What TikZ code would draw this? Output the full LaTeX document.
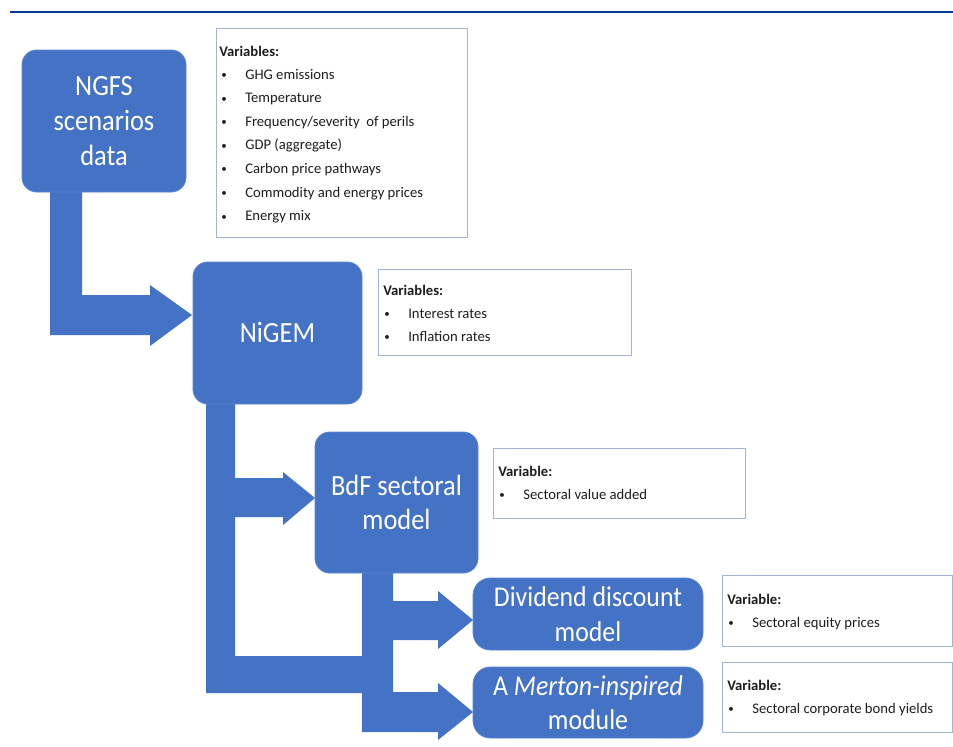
\documentclass[tikz,border=0pt]{standalone}
\usepackage{fontspec}
\setmainfont{Carlito}
\newfontfamily\bigfont{Carlito}[FakeStretch=0.9]
\definecolor{boxblue}{HTML}{4472C4}
\definecolor{boxedge}{HTML}{5A86D2}
\definecolor{arrowblue}{HTML}{4472C4}
\definecolor{topline}{HTML}{0B3A91}
\definecolor{varedge}{HTML}{A3B5CF}
\definecolor{vartxt}{HTML}{1E1E1E}
\newcommand\bul{\makebox[18pt][l]{\raisebox{0.5pt}{\scalebox{0.75}{\textbullet}}}}
\begin{document}
\begin{tikzpicture}[x=0.75pt,y=-0.75pt,
  bigbox/.style={draw=boxedge, fill=boxblue, line width=0.6pt, rounded corners=11pt,
    text=white, align=center, inner sep=0pt, font=\bigfont\fontsize{22}{26}\selectfont},
  smallbox/.style={bigbox, rounded corners=13pt, font=\bigfont\fontsize{21.5}{26}\selectfont},
  varbox/.style={draw=varedge, fill=white, line width=0.6pt, inner sep=0pt},
  vhead/.style={anchor=base west, inner sep=0pt, text=vartxt, font=\fontsize{11}{13}\selectfont\bfseries},
  vitem/.style={anchor=base west, inner sep=0pt, text=vartxt, font=\fontsize{11}{13}\selectfont},
  blockarrow/.style={fill=arrowblue}]
\useasboundingbox (0,0) rectangle (953,746);
\fill[white] (0,0) rectangle (953,746);
% top rule
\draw[topline, line width=2.2pt] (10,12) -- (953,12);

% block arrows
\fill[blockarrow] (50,185) -- (82,185) -- (82,295) -- (150,295) -- (150,285) -- (192,315)
  -- (150,346) -- (150,335) -- (50,335) -- cycle;
\fill[blockarrow] (206,398) -- (235,398) -- (235,478) -- (283,478) -- (283,472) -- (315,498)
  -- (283,525) -- (283,517) -- (235,517) -- (235,656) -- (362,656) -- (362,693) -- (206,693) -- cycle;
\fill[blockarrow] (362,568) -- (393,568) -- (393,601) -- (438,601) -- (438,591) -- (473,620)
  -- (438,649) -- (438,640) -- (393,640) -- (393,692) -- (438,692) -- (438,683) -- (473,712)
  -- (438,740) -- (438,732) -- (362,732) -- cycle;

% main boxes
\node[bigbox, minimum width=123pt, minimum height=106.5pt] (ngfs) at (104,121) {NGFS\\scenarios\\data};
\node[bigbox, minimum width=126.75pt, minimum height=106.5pt] (nigem) at (277.5,333) {NiGEM};
\node[bigbox, minimum width=122.25pt, minimum height=105.75pt] (bdf) at (396.5,502.5) {BdF sectoral\\model};
\node[smallbox, minimum width=172.5pt, minimum height=54pt] (ddm) at (588,614) {Dividend discount\\model};
\node[smallbox, minimum width=172.5pt, minimum height=53.25pt] (merton) at (588,702.5) {A \textit{Merton-inspired}\\module};

% variable boxes
\node[varbox, minimum width=188.25pt, minimum height=156.75pt] (v1) at (341.5,132.5) {};
\node[varbox, minimum width=189.75pt, minimum height=64.5pt] (v2) at (504.5,312) {};
\node[varbox, minimum width=189pt, minimum height=52.5pt] (v3) at (619,483) {};
\node[varbox, minimum width=172.5pt, minimum height=53.25pt] (v4) at (837,610.5) {};
\node[varbox, minimum width=172.5pt, minimum height=52.5pt] (v5) at (837,697) {};

% texts of box 1
\node[vhead] (v1h) at (219,56) {Variables:};
\foreach \t [count=\i] in {GHG emissions, Temperature, Frequency/severity\ \ of perils,
  GDP (aggregate), Carbon price pathways, Commodity and energy prices, Energy mix}
  \node[vitem] (v1i\i) at (221,{55.5+23.6*\i}) {\bul\t};
% box 2
\node[vhead] (v2h) at (383,295) {Variables:};
\node[vitem] (v2i1) at (384,318) {\bul Interest rates};
\node[vitem] (v2i2) at (384,341) {\bul Inflation rates};
% box 3
\node[vhead] (v3h) at (498,476) {Variable:};
\node[vitem] (v3i1) at (499,499) {\bul Sectoral value added};
% box 4
\node[vhead] (v4h) at (727,604) {Variable:};
\node[vitem] (v4i1) at (728,627) {\bul Sectoral equity prices};
% box 5
\node[vhead] (v5h) at (727,690) {Variable:};
\node[vitem] (v5i1) at (728,713) {\bul Sectoral corporate bond yields};
\end{tikzpicture}
\end{document}
